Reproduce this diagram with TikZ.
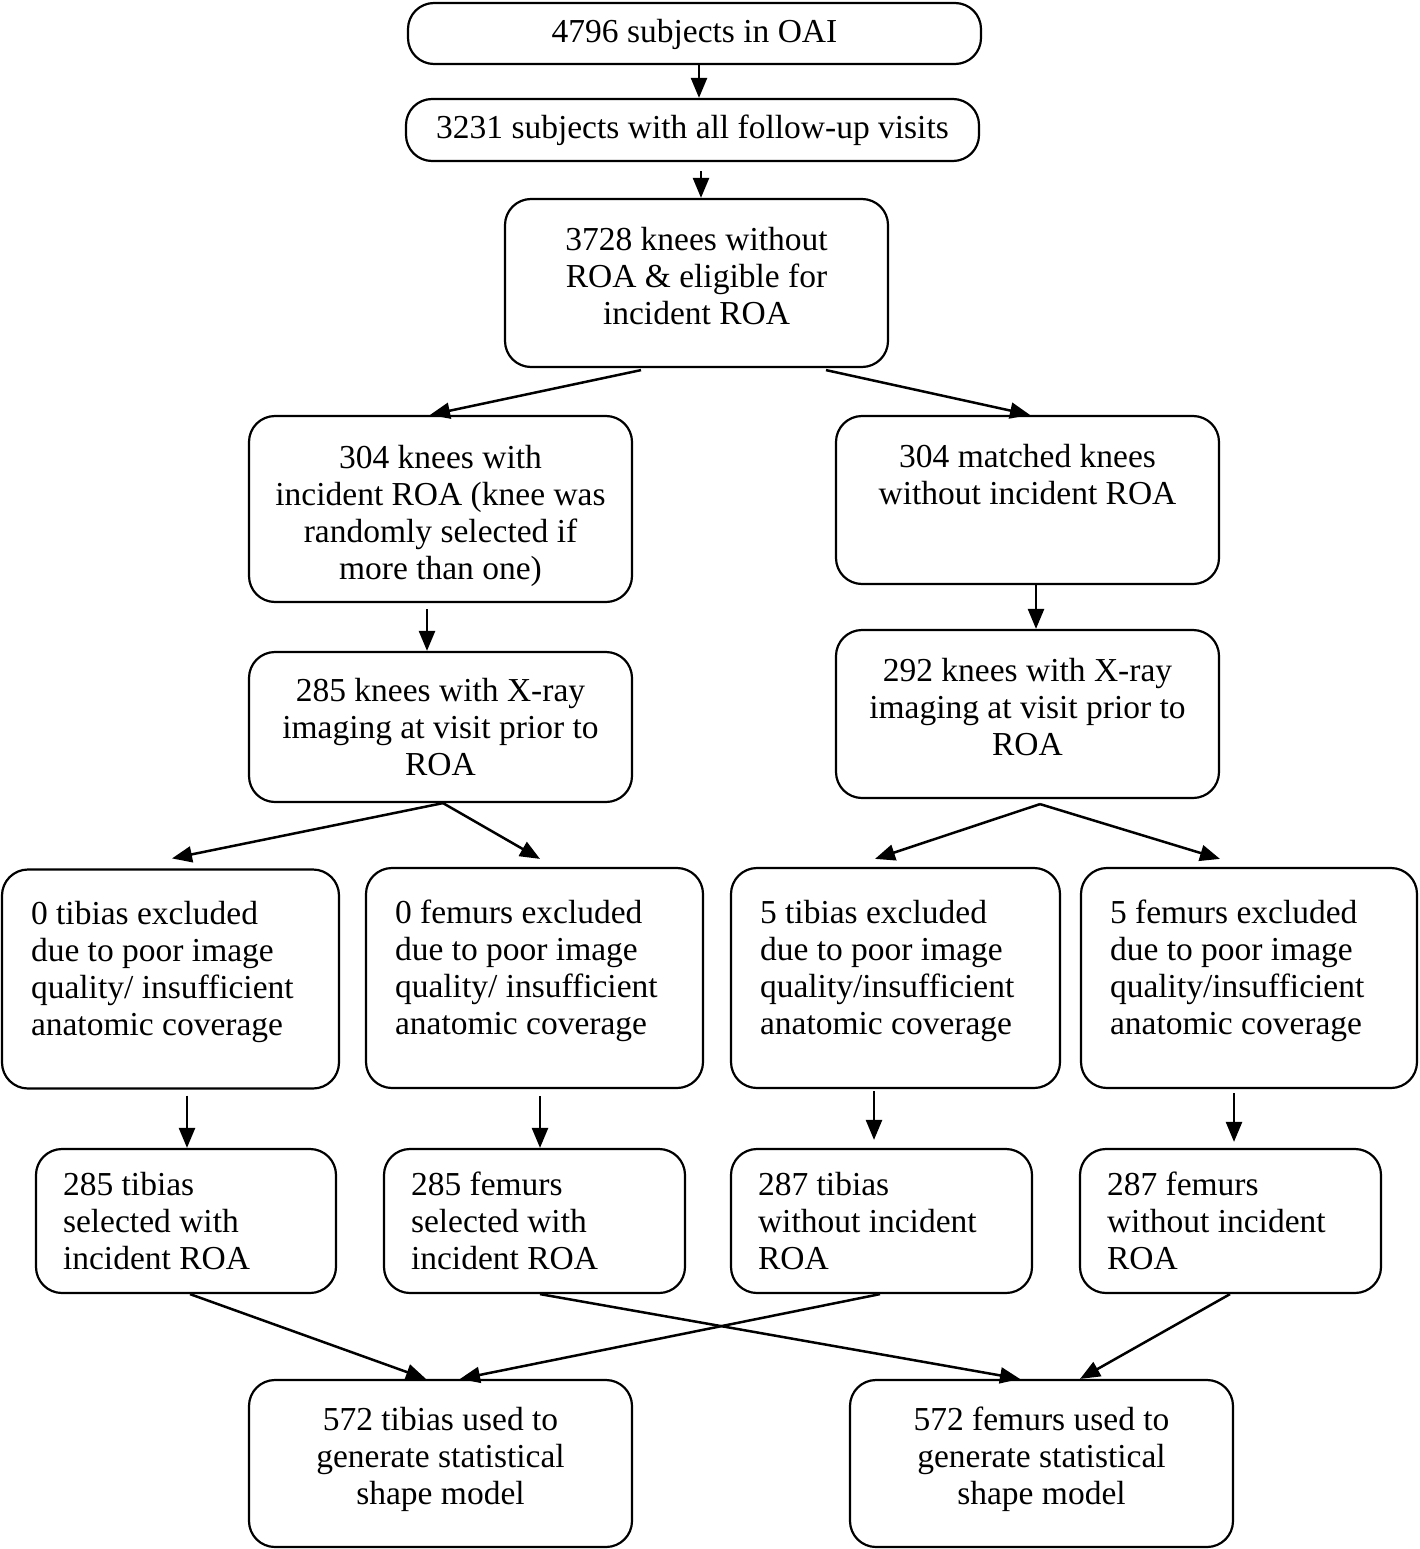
\documentclass[tikz,border=0pt]{standalone}
\usepackage{fontspec}
\setmainfont{Liberation Serif}
\usepackage{tikz}
\usetikzlibrary{arrows.meta}
% trailing empty line, moves the text block of a node up or down
\newcommand{\lift}[1]{\\[#1]\mbox{}}

\begin{document}
\begin{tikzpicture}[x=1pt, y=-1pt,
  box/.style={draw, line width=2.2pt, rounded corners=26pt, align=center,
    inner sep=0pt, font=\fontsize{33.5}{37}\selectfont},
  lbox/.style={box, align=flush left, inner xsep=29pt},
  arr/.style={line width=2.5pt, -{Triangle[length=20pt, width=16pt]}}]
  \useasboundingbox (0, 0) rectangle (1419, 1549);

  % top chain
  \node[box, minimum width=573pt, minimum height=61pt] (oai) at (694.5, 33.5)
    {4796 subjects in OAI\lift{-31pt}};
  \node[box, minimum width=573pt, minimum height=62pt] (visits) at (692.5, 130)
    {3231 subjects with all follow-up visits};
  \node[box, minimum width=383pt, minimum height=168pt] (elig) at (696.5, 283)
    {3728 knees without\\ ROA \& eligible for\\ incident ROA\lift{-23pt}};

  % cases and controls
  \node[box, minimum width=383pt, minimum height=186pt] (cases) at (440.5, 509)
    {\mbox{}\\[0pt] 304 knees with\\ incident ROA (knee was\\ randomly selected if\\ more than one)};
  \node[box, minimum width=383pt, minimum height=168pt] (ctrls) at (1027.5, 500)
    {304 matched knees\\ without incident ROA\lift{14pt}};
  \node[box, minimum width=383pt, minimum height=150pt] (xcases) at (440.5, 727)
    {285 knees with X-ray\\ imaging at visit prior to\\ ROA};
  \node[box, minimum width=383pt, minimum height=168pt] (xctrls) at (1027.5, 714)
    {292 knees with X-ray\\ imaging at visit prior to\\ ROA\lift{-23pt}};

  % exclusions
  \node[lbox, text width=279pt, minimum height=219pt] (extibA) at (170.5, 979)
    {0 tibias excluded\\ due to poor image\\ quality/ insufficient\\ anatomic coverage\lift{-15pt}};
  \node[lbox, text width=279pt, minimum height=220pt] (exfemA) at (534.5, 978)
    {0 femurs excluded\\ due to poor image\\ quality/ insufficient\\ anatomic coverage\lift{-15pt}};
  \node[lbox, text width=271pt, minimum height=220pt] (extibB) at (895.5, 978)
    {5 tibias excluded\\ due to poor image\\ quality/insufficient\\ anatomic coverage\lift{-15pt}};
  \node[lbox, text width=278pt, minimum height=220pt] (exfemB) at (1249, 978)
    {5 femurs excluded\\ due to poor image\\ quality/insufficient\\ anatomic coverage\lift{-15pt}};

  % selected bones
  \node[lbox, inner xsep=27pt, text width=246pt, minimum height=144pt] (tibA) at (186, 1221)
    {285 tibias\\ selected with\\ incident ROA};
  \node[lbox, inner xsep=27pt, text width=247pt, minimum height=144pt] (femA) at (534.5, 1221)
    {285 femurs\\ selected with\\ incident ROA};
  \node[lbox, inner xsep=27pt, text width=247pt, minimum height=144pt] (tibB) at (881.5, 1221)
    {287 tibias\\ without incident\\ ROA};
  \node[lbox, inner xsep=27pt, text width=247pt, minimum height=144pt] (femB) at (1230.5, 1221)
    {287 femurs\\ without incident\\ ROA};

  % models
  \node[box, minimum width=383pt, minimum height=167pt] (tibssm) at (440.5, 1463.5)
    {572 tibias used to\\ generate statistical\\ shape model\lift{-22pt}};
  \node[box, minimum width=383pt, minimum height=167pt] (femssm) at (1041.5, 1463.5)
    {572 femurs used to\\ generate statistical\\ shape model\lift{-22pt}};

  \draw[arr] ([xshift=4.5pt]oai.south) -- ([xshift=6.5pt]visits.north);
  \draw[arr] ([xshift=8.5pt, yshift=-9pt]visits.south) -- ([xshift=4.5pt]elig.north);
  \draw[arr] ([xshift=-55.5pt, yshift=-2pt]elig.south) -- ([xshift=-10.5pt]cases.north);
  \draw[arr] ([xshift=129.5pt, yshift=-2pt]elig.south) -- ([xshift=2.5pt]ctrls.north);
  \draw[arr] ([xshift=-13.5pt, yshift=-6pt]cases.south) -- ([xshift=-13.5pt]xcases.north);
  \draw[arr] ([xshift=8.5pt]ctrls.south) -- ([xshift=8.5pt]xctrls.north);

  \draw[arr] ([xshift=2.5pt]xcases.south) -- ([xshift=1.5pt, yshift=10pt]extibA.north);
  \draw[arr] ([xshift=2.5pt]xcases.south) -- ([xshift=5.5pt, yshift=8pt]exfemA.north);
  \draw[arr] ([xshift=12.5pt, yshift=-5pt]xctrls.south) -- ([xshift=-20.5pt, yshift=8pt]extibB.north);
  \draw[arr] ([xshift=12.5pt, yshift=-5pt]xctrls.south) -- ([xshift=-29pt, yshift=8pt]exfemB.north);

  \draw[arr] ([xshift=16.5pt, yshift=-6pt]extibA.south) -- ([xshift=1pt]tibA.north);
  \draw[arr] ([xshift=5.5pt, yshift=-7pt]exfemA.south) -- ([xshift=5.5pt]femA.north);
  \draw[arr] ([xshift=-21.5pt, yshift=-2pt]extibB.south) -- ([xshift=-7.5pt, yshift=8pt]tibB.north);
  \draw[arr] ([xshift=-15pt, yshift=-4pt]exfemB.south) -- ([xshift=3.5pt, yshift=6pt]femB.north);

  \draw[arr] ([xshift=4pt]tibA.south) -- ([xshift=-14.5pt]tibssm.north);
  \draw[arr] ([xshift=5.5pt]femA.south) -- ([xshift=-21.5pt]femssm.north);
  \draw[arr] ([xshift=-1.5pt]tibB.south) -- ([xshift=19.5pt]tibssm.north);
  \draw[arr] ([xshift=-0.5pt]femB.south) -- ([xshift=38.5pt]femssm.north);
\end{tikzpicture}
\end{document}
